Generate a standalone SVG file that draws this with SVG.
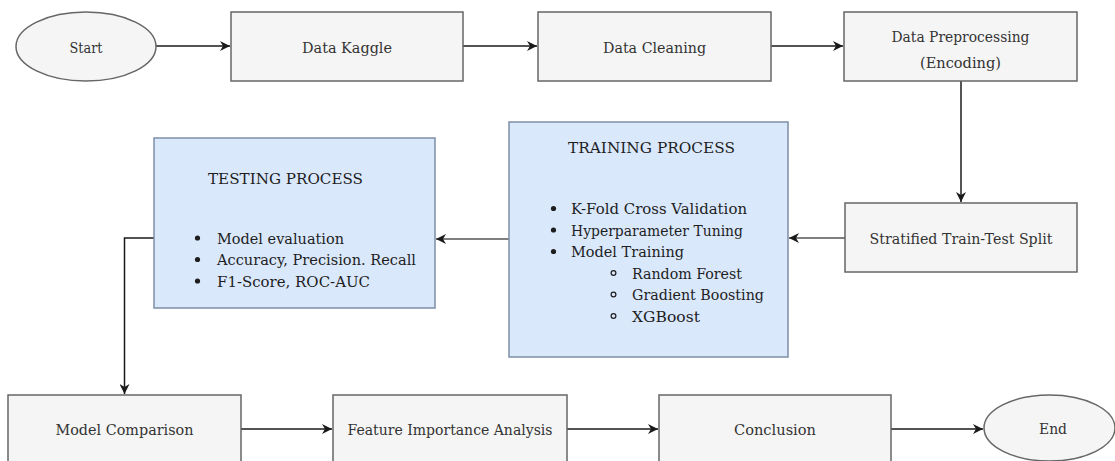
<svg xmlns="http://www.w3.org/2000/svg" width="1115" height="461" viewBox="0 0 1115 461">
  <defs>
    <style>
      .box { fill: #f5f5f5; stroke: #666666; stroke-width: 1.5; }
      .blue { fill: #dae8fc; stroke: #7d8ea6; stroke-width: 1.5; }
      text { font-family: "DejaVu Serif", "Liberation Serif", serif; font-size: 15.5px; }
      .lbl { fill: #333333; text-anchor: middle; }
      .txt { fill: #1e1e1e; }
      .edge { fill: none; stroke: #1a1a1a; stroke-width: 1.5; }
      .dot { fill: #1e1e1e; }
      .ring { fill: none; stroke: #1e1e1e; stroke-width: 1.2; }
    </style>
    <marker id="arrow" markerWidth="12" markerHeight="10" refX="10" refY="5" orient="auto" markerUnits="userSpaceOnUse">
      <path d="M0,0 L10,5 L0,10 L3,5 Z" fill="#1a1a1a"/>
    </marker>
  </defs>
  <rect width="1115" height="461" fill="#ffffff"/>

  <!-- connectors -->
  <g id="connectors">
    <line class="edge" x1="156" y1="46" x2="230" y2="46" marker-end="url(#arrow)"/>
    <line class="edge" x1="463" y1="46" x2="537" y2="46" marker-end="url(#arrow)"/>
    <line class="edge" x1="771" y1="46" x2="843" y2="46" marker-end="url(#arrow)"/>
    <line class="edge" x1="961" y1="81" x2="961" y2="202" style="stroke:#555555;stroke-width:2" marker-end="url(#arrow)"/>
    <line class="edge" x1="845" y1="238" x2="789" y2="238" style="stroke:#555555" marker-end="url(#arrow)"/>
    <line class="edge" x1="509" y1="239" x2="436" y2="239" style="stroke:#555555" marker-end="url(#arrow)"/>
    <polyline class="edge" points="154,238 124.5,238 124.5,394" marker-end="url(#arrow)"/>
    <line class="edge" x1="241" y1="429" x2="332" y2="429" marker-end="url(#arrow)"/>
    <line class="edge" x1="567" y1="429" x2="658" y2="429" marker-end="url(#arrow)"/>
    <line class="edge" x1="891" y1="429" x2="983" y2="429" marker-end="url(#arrow)"/>
  </g>

  <g id="start">
    <ellipse class="box" cx="86" cy="46.5" rx="70" ry="34.5"/>
    <text class="lbl" x="86" y="52.5" textLength="33" lengthAdjust="spacingAndGlyphs">Start</text>
  </g>

  <g id="data-kaggle">
    <rect class="box" x="231" y="12" width="232" height="69"/>
    <text class="lbl" x="347" y="52.5" textLength="90" lengthAdjust="spacingAndGlyphs">Data Kaggle</text>
  </g>

  <g id="data-cleaning">
    <rect class="box" x="538" y="12" width="233" height="69"/>
    <text class="lbl" x="654.5" y="52.5" textLength="103" lengthAdjust="spacingAndGlyphs">Data Cleaning</text>
  </g>

  <g id="data-preprocessing">
    <rect class="box" x="844" y="12" width="233" height="69"/>
    <text class="lbl" x="960.5" y="42" textLength="138" lengthAdjust="spacingAndGlyphs">Data Preprocessing</text>
    <text class="lbl" x="960.5" y="68" textLength="81" lengthAdjust="spacingAndGlyphs">(Encoding)</text>
  </g>

  <g id="stratified-split">
    <rect class="box" x="845" y="203" width="232" height="69"/>
    <text class="lbl" x="961" y="244" textLength="183" lengthAdjust="spacingAndGlyphs">Stratified Train-Test Split</text>
  </g>

  <g id="training-process">
    <rect class="blue" x="509" y="122" width="279" height="235"/>
    <text class="txt" x="651.5" y="153" text-anchor="middle" textLength="167" lengthAdjust="spacingAndGlyphs">TRAINING PROCESS</text>
    <circle class="dot" cx="553.5" cy="208.5" r="2.6"/>
    <text class="txt" x="571" y="214" textLength="176" lengthAdjust="spacingAndGlyphs">K-Fold Cross Validation</text>
    <circle class="dot" cx="553.5" cy="230" r="2.6"/>
    <text class="txt" x="571" y="235.5" textLength="172" lengthAdjust="spacingAndGlyphs">Hyperparameter Tuning</text>
    <circle class="dot" cx="553.5" cy="251.5" r="2.6"/>
    <text class="txt" x="571" y="257" textLength="113" lengthAdjust="spacingAndGlyphs">Model Training</text>
    <circle class="ring" cx="613.5" cy="273" r="2.4"/>
    <text class="txt" x="632" y="278.5" textLength="110" lengthAdjust="spacingAndGlyphs">Random Forest</text>
    <circle class="ring" cx="613.5" cy="294.5" r="2.4"/>
    <text class="txt" x="632" y="300" textLength="132" lengthAdjust="spacingAndGlyphs">Gradient Boosting</text>
    <circle class="ring" cx="613.5" cy="316" r="2.4"/>
    <text class="txt" x="632" y="321.5" textLength="68" lengthAdjust="spacingAndGlyphs">XGBoost</text>
  </g>

  <g id="testing-process">
    <rect class="blue" x="154" y="138" width="281" height="170"/>
    <text class="txt" x="208" y="184" textLength="155" lengthAdjust="spacingAndGlyphs">TESTING PROCESS</text>
    <circle class="dot" cx="197.5" cy="238" r="2.6"/>
    <text class="txt" x="217" y="243.5" textLength="127" lengthAdjust="spacingAndGlyphs">Model evaluation</text>
    <circle class="dot" cx="197.5" cy="259.5" r="2.6"/>
    <text class="txt" x="217" y="265" textLength="199" lengthAdjust="spacingAndGlyphs">Accuracy, Precision. Recall</text>
    <circle class="dot" cx="197.5" cy="281" r="2.6"/>
    <text class="txt" x="217" y="286.5" textLength="153" lengthAdjust="spacingAndGlyphs">F1-Score, ROC-AUC</text>
  </g>

  <g id="model-comparison">
    <rect class="box" x="8" y="395" width="233" height="80"/>
    <text class="lbl" x="124.5" y="435" textLength="138" lengthAdjust="spacingAndGlyphs">Model Comparison</text>
  </g>

  <g id="feature-importance">
    <rect class="box" x="333" y="395" width="234" height="80"/>
    <text class="lbl" x="450" y="435" textLength="205" lengthAdjust="spacingAndGlyphs">Feature Importance Analysis</text>
  </g>

  <g id="conclusion">
    <rect class="box" x="659" y="395" width="232" height="80"/>
    <text class="lbl" x="775" y="435" textLength="82" lengthAdjust="spacingAndGlyphs">Conclusion</text>
  </g>

  <g id="end">
    <ellipse class="box" cx="1049.5" cy="428" rx="65.5" ry="33"/>
    <text class="lbl" x="1053" y="434" textLength="28" lengthAdjust="spacingAndGlyphs">End</text>
  </g>
</svg>
